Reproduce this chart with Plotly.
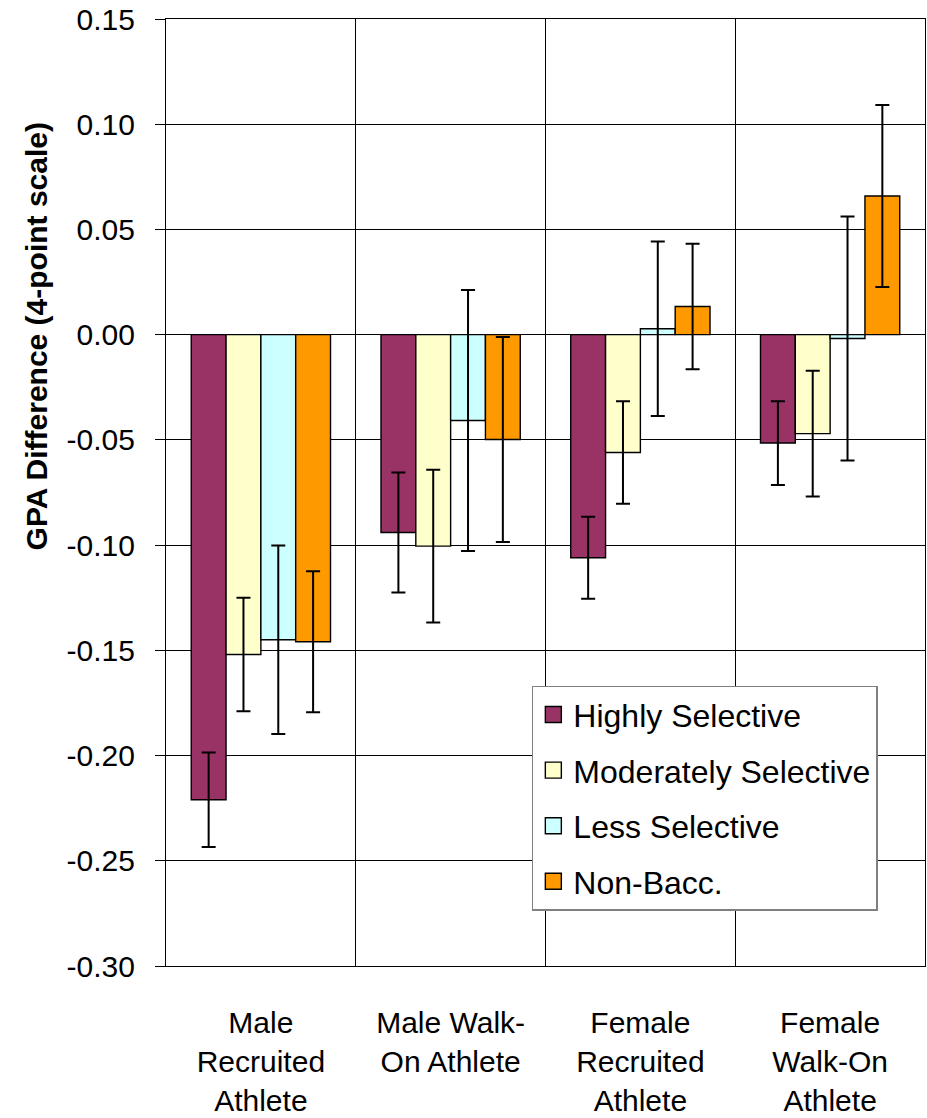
import plotly.graph_objects as go

# ---- data ----
categories = ["Male<br>Recruited<br>Athlete", "Male Walk-<br>On Athlete",
              "Female<br>Recruited<br>Athlete", "Female<br>Walk-On<br>Athlete"]
series_names = ["Highly Selective", "Moderately Selective", "Less Selective", "Non-Bacc."]

highly = [-0.221, -0.094, -0.106, -0.0515]
highly_err = [0.0225, 0.0285, 0.0195, 0.0199]
moderately = [-0.152, -0.1005, -0.056, -0.047]
moderately_err = [0.027, 0.0363, 0.0244, 0.0299]
less = [-0.145, -0.0408, 0.0028, -0.0018]
less_err = [0.0448, 0.062, 0.0415, 0.058]
nonbacc = [-0.1459, -0.0498, 0.0134, 0.0659]
nonbacc_err = [0.0335, 0.0487, 0.0298, 0.0432]

y_tick_values = [-0.30, -0.25, -0.20, -0.15, -0.10, -0.05, 0.00, 0.05, 0.10, 0.15]
y_tick_labels = ["-0.30", "-0.25", "-0.20", "-0.15", "-0.10", "-0.05", "0.00", "0.05", "0.10", "0.15"]
y_title = "GPA Difference (4-point scale)"

colors = ["#993366", "#FFFFCC", "#CCFFFF", "#FF9900"]

values = [highly, moderately, less, nonbacc]
errors = [highly_err, moderately_err, less_err, nonbacc_err]

FONT = "Liberation Sans, Arial, sans-serif"

fig = go.Figure()
for name, vals, errs, col in zip(series_names, values, errors, colors):
    fig.add_trace(go.Bar(
        x=categories, y=vals, name=name, showlegend=False,
        marker=dict(color=col, line=dict(color="black", width=1.4)),
        error_y=dict(type="data", array=errs, visible=True,
                     color="black", thickness=2, width=7),
    ))
# legend proxies (larger square swatches)
for name, col in zip(series_names, colors):
    fig.add_trace(go.Scatter(
        x=[None], y=[None], mode="markers", name=name, legendgroup=name,
        marker=dict(symbol="square", size=16, color=col,
                    line=dict(color="black", width=1.4)),
    ))

fig.update_layout(
    width=927, height=1118,
    margin=dict(l=166, r=1, t=19, b=140),
    paper_bgcolor="white", plot_bgcolor="white",
    barmode="group", bargap=0.266, bargroupgap=0,
    font=dict(family=FONT, size=30, color="black"),
    showlegend=True,
    legend=dict(
        x=0.482, y=0.296, xanchor="left", yanchor="top",
        bgcolor="white", bordercolor="#808080", borderwidth=1.5,
        font=dict(family=FONT, size=32, color="black"),
        traceorder="grouped", tracegroupgap=11,
    ),
    annotations=[dict(
        text="<b>" + y_title + "</b>", textangle=-90,
        xref="paper", yref="paper", x=-0.171, y=0.665,
        xanchor="center", yanchor="middle", showarrow=False,
        font=dict(family=FONT, size=30, color="black"),
    )],
)

fig.update_xaxes(
    type="category", range=[-0.5, 3.5], tickson="boundaries",
    showgrid=True, gridcolor="black", gridwidth=1,
    ticks="", showline=True, linecolor="black", linewidth=1.3, mirror=True,
    tickfont=dict(family=FONT, size=30, color="black"),
    ticklabelstandoff=30,
)
fig.update_yaxes(
    range=[-0.30, 0.15], tickvals=y_tick_values, ticktext=y_tick_labels,
    showgrid=True, gridcolor="black", gridwidth=1,
    zeroline=True, zerolinecolor="black", zerolinewidth=1,
    ticks="outside", ticklen=10, tickcolor="black", tickwidth=1,
    showline=True, linecolor="black", linewidth=1.3, mirror=True,
    tickfont=dict(family=FONT, size=30, color="black"),
    ticklabelstandoff=14,
)

fig.write_html("out.html")
